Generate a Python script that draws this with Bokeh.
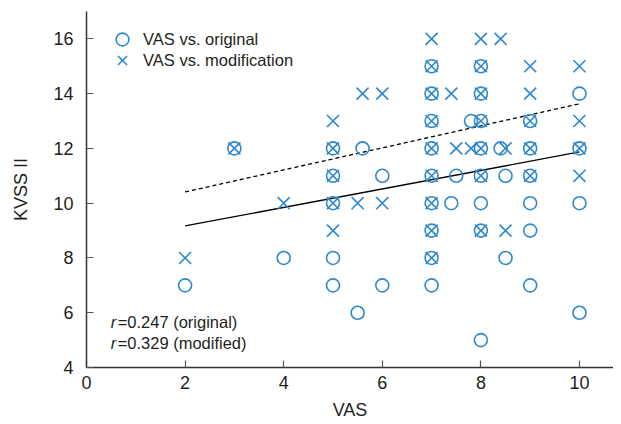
from bokeh.plotting import figure
from bokeh.models import Label, Legend, LegendItem, FixedTicker
from bokeh.embed import file_html
from bokeh.resources import INLINE

# --- data ---
orig_x = [2, 3, 4, 5, 5, 5, 5, 5, 5.5, 5.6, 6, 6,
          7, 7, 7, 7, 7, 7, 7, 7, 7, 7.4, 7.5, 7.8,
          8, 8, 8, 8, 8, 8, 8, 8, 8.4, 8.5, 8.5,
          9, 9, 9, 9, 9, 9, 10, 10, 10, 10]
orig_y = [7, 12, 8, 12, 11, 10, 8, 7, 6, 12, 11, 7,
          15, 14, 13, 12, 11, 10, 9, 8, 7, 10, 11, 13,
          15, 14, 13, 12, 11, 10, 9, 5, 12, 11, 8,
          13, 12, 11, 10, 9, 7, 14, 12, 10, 6]

mod_x = [2, 3, 4, 5, 5, 5, 5, 5, 5.5, 5.6, 6, 6,
         7, 7, 7, 7, 7, 7, 7, 7, 7, 7.4, 7.5, 7.8,
         8, 8, 8, 8, 8, 8, 8, 8.4, 8.5, 8.5,
         9, 9, 9, 9, 9, 10, 10, 10, 10]
mod_y = [8, 12, 10, 13, 12, 11, 10, 9, 10, 14, 14, 10,
         16, 15, 14, 13, 12, 11, 10, 9, 8, 14, 12, 12,
         16, 15, 14, 13, 12, 11, 9, 16, 12, 9,
         15, 14, 13, 12, 11, 15, 13, 12, 11]

fit_x = [2, 10]
fit_orig_y = [9.17, 11.87]
fit_mod_y = [10.41, 13.63]

x_ticks = [0, 2, 4, 6, 8, 10]
y_ticks = [4, 6, 8, 10, 12, 14, 16]
r_texts = ["=0.247 (original)", "=0.329 (modified)"]
legend_labels = ["VAS vs. original", "VAS vs. modification"]

BLUE = "#2f88cc"
TXT = "#231f20"
FONT = "Liberation Sans"

p = figure(width=613, height=422, x_range=(0, 10.69), y_range=(4, 17),
           output_backend="svg", toolbar_location=None,
           min_border_left=86, min_border_right=0, min_border_top=11,
           min_border_bottom=48)
p.outline_line_color = None
p.grid.visible = False
p.background_fill_color = "white"

for ax in (p.xaxis[0], p.yaxis[0]):
    ax.major_tick_in = 7
    ax.major_tick_out = 0
    ax.minor_tick_line_color = None
    ax.axis_line_width = 1.5
    ax.axis_line_color = "#333333"
    ax.major_tick_line_color = "#555555"
    ax.major_tick_line_width = 1.2
    ax.major_label_text_font = FONT
    ax.major_label_text_font_size = "18px"
    ax.major_label_text_color = TXT
    ax.axis_label_text_font = FONT
    ax.axis_label_text_font_size = "18px"
    ax.axis_label_text_font_style = "normal"
    ax.axis_label_text_color = TXT

p.xaxis.ticker = FixedTicker(ticks=x_ticks)
p.yaxis.ticker = FixedTicker(ticks=y_ticks)
p.xaxis.axis_label = "VAS"
p.yaxis.axis_label = "KVSS II"
p.xaxis.major_label_standoff = 8
p.yaxis.major_label_standoff = 13
p.xaxis.axis_label_standoff = 8
p.yaxis.axis_label_standoff = 19

p.line(fit_x, fit_orig_y, line_color="black", line_width=1.3)
p.line(fit_x, fit_mod_y, line_color="black", line_width=1.3, line_dash="4 3")

r1 = p.scatter(orig_x, orig_y, marker="circle", size=13, fill_color=None,
               line_color=BLUE, line_width=1.6)
r2 = p.scatter(mod_x, mod_y, marker="x", size=17, line_color=BLUE,
               line_width=1.6)

for lab, rend, ly in zip(legend_labels, [r1, r2], [312, 291]):
    lg = Legend(items=[LegendItem(label=lab, renderers=[rend])],
                location=(20, ly), padding=0, margin=0, spacing=0,
                border_line_color=None, background_fill_alpha=0,
                label_text_font=FONT, label_text_font_size="16.5px",
                label_text_color=TXT, glyph_width=32, glyph_height=32,
                label_height=32, label_standoff=5)
    p.add_layout(lg, "center")

for txt, yy in zip(r_texts, [5.67, 4.91]):
    p.add_layout(Label(x=0.49, y=yy, text="r", text_font=FONT,
                       text_font_size="16.5px", text_font_style="italic",
                       text_color=TXT, text_baseline="middle"))
    p.add_layout(Label(x=0.49, y=yy, x_offset=7, text=txt, text_font=FONT,
                       text_font_size="16.5px", text_color=TXT,
                       text_baseline="middle"))

open("out.html", "w").write(file_html(p, INLINE))
